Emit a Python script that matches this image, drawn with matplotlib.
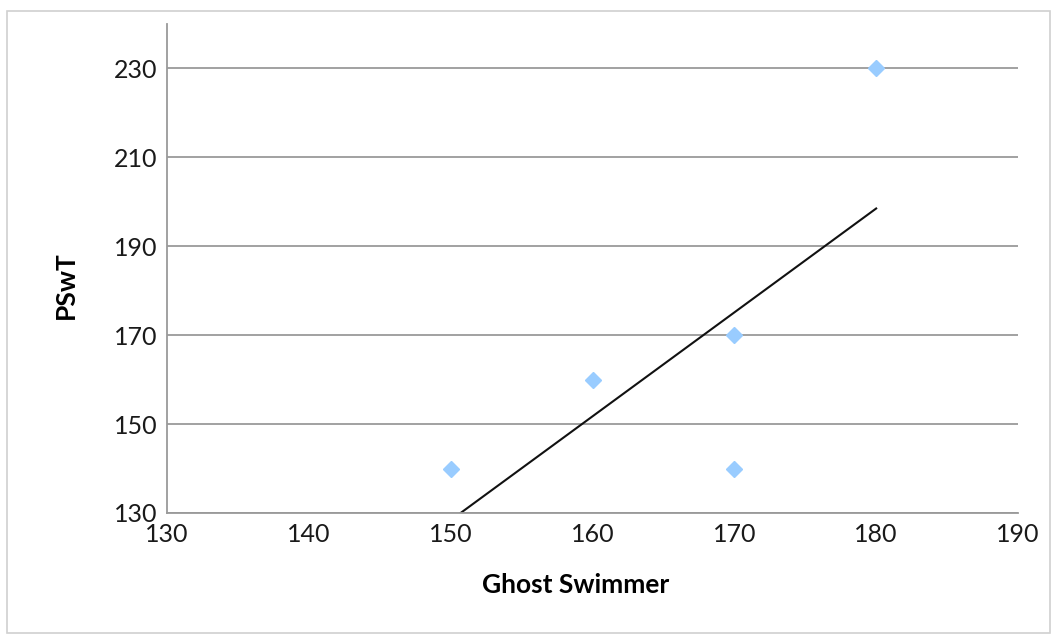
import matplotlib
matplotlib.use("Agg")
import matplotlib.pyplot as plt
from matplotlib.patches import Rectangle

ghost_swimmer = [150, 160, 170, 170, 180]
pswt = [140, 160, 170, 140, 230]
trend_x = [150.7, 180.0]
trend_y = [130.0, 198.5]
x_ticks = [130, 140, 150, 160, 170, 180, 190]
y_ticks = [130, 150, 170, 190, 210, 230]

plt.rcParams['font.family'] = ['Lato', 'DejaVu Sans']

fig = plt.figure(figsize=(10.53, 6.37), dpi=100)
fig.patches.append(Rectangle((7/1053, 4/637), 1043/1053, 622/637, transform=fig.transFigure,
                             fill=False, edgecolor='#d0d0d0', linewidth=1.2))
ax = fig.add_axes([167/1053, 1 - 513/637, (1018 - 167)/1053, (513 - 24)/637])

ax.set_xlim(130, 190)
ax.set_ylim(130, 240)
ax.set_xticks(x_ticks)
ax.set_yticks(y_ticks)
ax.grid(axis='y', color='#9a9a9a', linewidth=1.3)
ax.set_axisbelow(True)
for s in ['top', 'right']:
    ax.spines[s].set_visible(False)
for s in ['left', 'bottom']:
    ax.spines[s].set_color('#9a9a9a')
    ax.spines[s].set_linewidth(1.3)
ax.tick_params(length=0, labelsize=18, pad=7, colors='#1a1a1a')

ax.plot(trend_x, trend_y, color='#111111', linewidth=1.5, zorder=2)
ax.plot(ghost_swimmer, pswt, linestyle='none', marker='D', markersize=8,
        color='#99ccff', zorder=3, clip_on=False)

ax.set_xlabel('Ghost Swimmer', fontsize=19, fontweight='bold', va='center', ha='center')
ax.xaxis.set_label_coords((576 - 167) / 851, (513 - 585) / 489)
ax.set_ylabel('PSwT', fontsize=19, fontweight='bold', va='center', ha='center')
ax.yaxis.set_label_coords((66 - 167) / 851, (513 - 285) / 489)

fig.savefig('out.png', dpi=100)
